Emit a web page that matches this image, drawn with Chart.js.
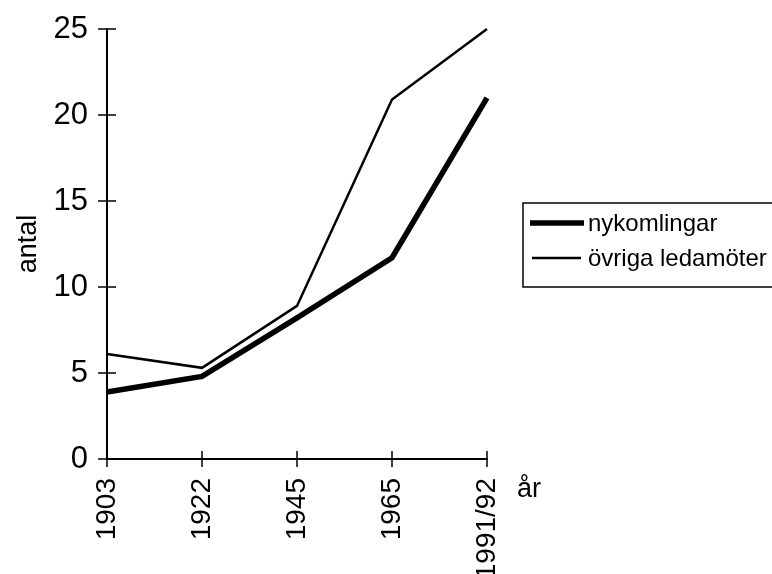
<!DOCTYPE html>
<html>
<head>
<meta charset="utf-8">
<script src="https://cdn.jsdelivr.net/npm/chart.js@4/dist/chart.umd.min.js"></script>
<style>
  html, body { margin: 0; padding: 0; background: #fff; }
  #wrap { width: 772px; height: 574px; }
</style>
</head>
<body>
<div id="wrap"><canvas id="chart" width="772" height="574"></canvas></div>
<script>
// data
var years = ['1903', '1922', '1945', '1965', '1991/92'];
var nykomlingar = [3.9, 4.8, 8.2, 11.7, 21.0];
var ovriga = [6.1, 5.3, 8.9, 20.9, 25.0];
var yTicks = [0, 5, 10, 15, 20, 25];

var FONT = '"Liberation Sans", Arial, sans-serif';

// ticks crossing both axes, the boxed legend and the "år" label
var extras = {
    id: 'extras',
    afterDraw: function (chart) {
        var c = chart.ctx;
        var xs = chart.scales.x, ys = chart.scales.y;
        var a = chart.chartArea;
        c.save();
        c.strokeStyle = '#000';
        c.lineWidth = 1.5;
        c.beginPath();
        ys.ticks.forEach(function (t) {
            var py = ys.getPixelForValue(t.value);
            c.moveTo(a.left - 9, py);
            c.lineTo(a.left + 9, py);
        });
        xs.ticks.forEach(function (t, i) {
            var px = xs.getPixelForTick(i);
            c.moveTo(px, a.bottom - 8);
            c.lineTo(px, a.bottom + 8);
        });
        c.stroke();

        // legend box
        c.lineWidth = 1.5;
        c.strokeRect(523, 203, 260, 84);
        var rows = [223, 258];
        chart.data.datasets.forEach(function (ds, i) {
            c.lineWidth = ds.borderWidth;
            c.beginPath();
            c.moveTo(i === 0 ? 530 : 532, rows[i]);
            c.lineTo(i === 0 ? 584 : 581, rows[i]);
            c.stroke();
            c.fillStyle = '#000';
            c.font = '24px ' + FONT;
            c.textBaseline = 'middle';
            c.textAlign = 'left';
            c.fillText(ds.label, 588, rows[i] + 1);
        });

        c.font = '27px ' + FONT;
        c.textBaseline = 'middle';
        c.fillText('år', 517, 490);
        c.restore();
    }
};

new Chart(document.getElementById('chart'), {
    type: 'line',
    data: {
        labels: years,
        datasets: [
            {
                label: 'nykomlingar',
                data: nykomlingar,
                borderColor: '#000',
                borderWidth: 5.5,
                pointRadius: 0,
                tension: 0,
                clip: 10
            },
            {
                label: 'övriga ledamöter',
                data: ovriga,
                borderColor: '#000',
                borderWidth: 2.5,
                pointRadius: 0,
                tension: 0,
                clip: 10
            }
        ]
    },
    options: {
        responsive: false,
        animation: false,
        devicePixelRatio: 1,
        layout: { padding: { left: 0, right: 285, top: 29, bottom: 0 } },
        plugins: { legend: { display: false }, tooltip: { enabled: false } },
        scales: {
            x: {
                offset: false,
                grid: { display: false, drawTicks: false },
                border: { display: true, color: '#000', width: 2 },
                ticks: {
                    color: '#000',
                    font: { family: FONT, size: 28 },
                    minRotation: 90,
                    maxRotation: 90,
                    padding: 19,
                    autoSkip: false
                },
                afterFit: function (s) { s.height = 115; }
            },
            y: {
                min: 0,
                max: 25,
                afterBuildTicks: function (s) {
                    s.ticks = yTicks.map(function (v) { return { value: v }; });
                },
                grid: { display: false, drawTicks: false },
                border: { display: true, color: '#000', width: 2 },
                ticks: {
                    color: '#000',
                    font: { family: FONT, size: 31 },
                    padding: 19
                },
                title: {
                    display: true,
                    text: 'antal',
                    color: '#000',
                    font: { family: FONT, size: 27 },
                    padding: { top: 12, bottom: 0 }
                },
                afterFit: function (s) {
                    s.width = 107;
                    s.paddingTop = 0;
                    s.paddingBottom = 0;
                }
            }
        }
    },
    plugins: [extras]
});
</script>
</body>
</html>
